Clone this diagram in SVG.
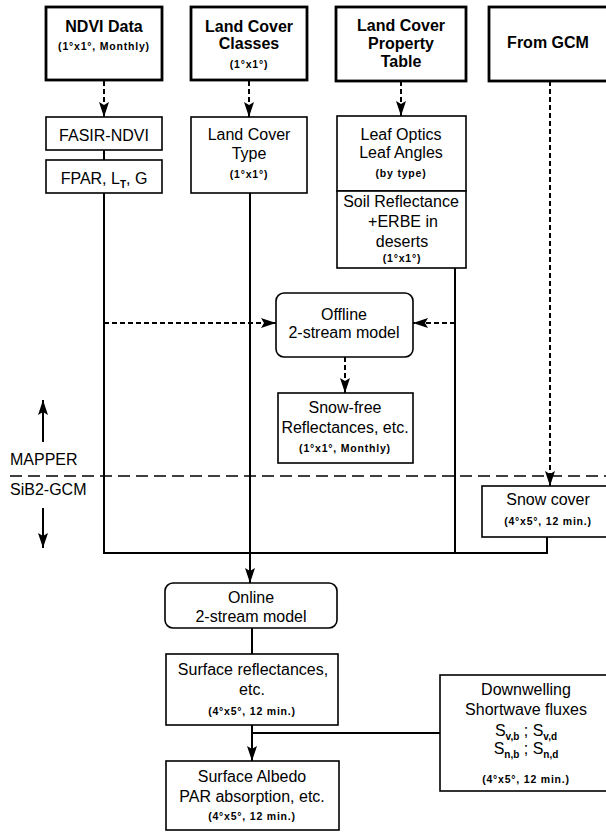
<svg xmlns="http://www.w3.org/2000/svg" width="606" height="832" viewBox="0 0 606 832">
<defs>
<style>
text{font-family:"Liberation Sans",Arial,sans-serif;fill:#000;text-anchor:middle}
.b{font-weight:bold;font-size:16px}
.r{font-size:16px}
.s{font-weight:bold;font-size:10.5px;letter-spacing:0.8px}
.sub{font-weight:bold;font-size:10px}
.thick{fill:#fff;stroke:#000;stroke-width:2.8}
.box{fill:#fff;stroke:#000;stroke-width:1.6}
.ln{fill:none;stroke:#000;stroke-width:2}
.dl{fill:none;stroke:#000;stroke-width:2;stroke-dasharray:5,3}
.sep{fill:none;stroke:#000;stroke-width:1.6;stroke-dasharray:12,6}
</style>
<marker id="ah" viewBox="0 0 15 10" refX="15" refY="5" markerWidth="15" markerHeight="10" markerUnits="userSpaceOnUse" orient="auto">
<path d="M0,0 L15,5 L0,10 L3,5 Z" fill="#000"/>
</marker>
</defs>

<g id="connectors">
<line class="dl" x1="104" y1="81" x2="104" y2="117" marker-end="url(#ah)"/>
<line class="dl" x1="249" y1="81" x2="249" y2="117" marker-end="url(#ah)"/>
<line class="dl" x1="401" y1="81" x2="401" y2="116" marker-end="url(#ah)"/>
<line class="dl" x1="550" y1="81" x2="550" y2="486" marker-end="url(#ah)"/>
<line class="ln" x1="104" y1="150" x2="104" y2="160"/>
<polyline class="ln" points="104,193 104,553 547,553 547,537"/>
<line class="ln" x1="455" y1="268" x2="455" y2="553"/>
<line class="ln" x1="250" y1="193" x2="250" y2="583" marker-end="url(#ah)"/>
<line class="dl" x1="104" y1="323" x2="276" y2="323" marker-end="url(#ah)"/>
<line class="dl" x1="455" y1="323" x2="413" y2="323" marker-end="url(#ah)"/>
<line class="dl" x1="345" y1="357" x2="345" y2="393" marker-end="url(#ah)"/>
<line class="ln" x1="252" y1="628" x2="252" y2="654"/>
<line class="ln" x1="252" y1="725" x2="252" y2="761" marker-end="url(#ah)"/>
<line class="ln" x1="440" y1="733" x2="252" y2="733"/>
<line class="sep" x1="10" y1="476" x2="606" y2="476"/>
<line class="ln" x1="43" y1="442" x2="43" y2="400" marker-end="url(#ah)"/>
<line class="ln" x1="43" y1="508" x2="43" y2="548" marker-end="url(#ah)"/>
</g>

<g id="ndvi-data">
<rect class="thick" x="46" y="7" width="116" height="73"/>
<text class="b" x="104" y="32">NDVI Data</text>
<text class="s" x="104" y="50">(1°x1°, Monthly)</text>
</g>
<g id="land-cover-classes">
<rect class="thick" x="191" y="7" width="116" height="73"/>
<text class="b" x="249" y="32">Land Cover</text>
<text class="b" x="249" y="49">Classes</text>
<text class="s" x="249" y="68">(1°x1°)</text>
</g>
<g id="land-cover-property-table">
<rect class="thick" x="336" y="7" width="130" height="74"/>
<text class="b" x="401" y="31">Land Cover</text>
<text class="b" x="401" y="49">Property</text>
<text class="b" x="401" y="67">Table</text>
</g>
<g id="from-gcm">
<rect class="thick" x="489" y="7" width="120" height="74"/>
<text class="b" x="548" y="48">From GCM</text>
</g>

<g id="fasir-ndvi">
<rect class="box" x="46" y="117" width="116" height="33"/>
<text class="r" x="104" y="141">FASIR-NDVI</text>
</g>
<g id="fpar">
<rect class="box" x="46" y="160" width="116" height="33"/>
<text class="r" x="104" y="184">FPAR, L<tspan class="sub" dy="4">T</tspan><tspan dy="-4">, G</tspan></text>
</g>
<g id="land-cover-type">
<rect class="box" x="191" y="117" width="116" height="76"/>
<text class="r" x="249" y="140">Land Cover</text>
<text class="r" x="249" y="159">Type</text>
<text class="s" x="249" y="178">(1°x1°)</text>
</g>
<g id="leaf-optics">
<rect class="box" x="337" y="116" width="129" height="75"/>
<text class="r" x="401" y="140">Leaf Optics</text>
<text class="r" x="401" y="158">Leaf Angles</text>
<text class="s" x="401" y="177">(by type)</text>
</g>
<g id="soil-reflectance">
<rect class="box" x="337" y="191" width="129" height="77"/>
<text class="r" x="401" y="207">Soil Reflectance</text>
<text class="r" x="403" y="227">+ERBE in</text>
<text class="r" x="402" y="247">deserts</text>
<text class="s" x="402" y="262">(1°x1°)</text>
</g>

<g id="offline-model">
<rect class="box" x="276" y="293" width="137" height="64" rx="8"/>
<text class="r" x="344" y="320">Offline</text>
<text class="r" x="344" y="338">2-stream model</text>
</g>
<g id="snow-free">
<rect class="box" x="278" y="393" width="135" height="70"/>
<text class="r" x="345" y="413">Snow-free</text>
<text class="r" x="345" y="433">Reflectances, etc.</text>
<text class="s" x="345" y="452">(1°x1°, Monthly)</text>
</g>
<g id="snow-cover">
<rect class="box" x="482" y="486" width="127" height="51"/>
<text class="r" x="548" y="505">Snow cover</text>
<text class="s" x="548" y="525">(4°x5°, 12 min.)</text>
</g>

<g id="labels">
<text class="r" x="10" y="465" style="text-anchor:start">MAPPER</text>
<text class="r" x="10" y="495" style="text-anchor:start">SiB2-GCM</text>
</g>

<g id="online-model">
<rect class="box" x="165" y="583" width="172" height="45" rx="8"/>
<text class="r" x="251" y="603">Online</text>
<text class="r" x="251" y="622">2-stream model</text>
</g>
<g id="surface-reflectances">
<rect class="box" x="166" y="654" width="172" height="71"/>
<text class="r" x="253" y="675">Surface reflectances,</text>
<text class="r" x="252" y="695">etc.</text>
<text class="s" x="252" y="715">(4°x5°, 12 min.)</text>
</g>
<g id="surface-albedo">
<rect class="box" x="166" y="761" width="173" height="69"/>
<text class="r" x="252" y="782">Surface Albedo</text>
<text class="r" x="252" y="802">PAR absorption, etc.</text>
<text class="s" x="252" y="820">(4°x5°, 12 min.)</text>
</g>
<g id="downwelling">
<rect class="box" x="440" y="675" width="170" height="116"/>
<text class="r" x="526" y="695">Downwelling</text>
<text class="r" x="526" y="715">Shortwave fluxes</text>
<text class="r" x="526" y="736">S<tspan class="sub" dy="4">v,b</tspan><tspan dy="-4"> ; S</tspan><tspan class="sub" dy="4">v,d</tspan></text>
<text class="r" x="526" y="754">S<tspan class="sub" dy="4">n,b</tspan><tspan dy="-4"> ; S</tspan><tspan class="sub" dy="4">n,d</tspan></text>
<text class="s" x="526" y="783">(4°x5°, 12 min.)</text>
</g>
</svg>
